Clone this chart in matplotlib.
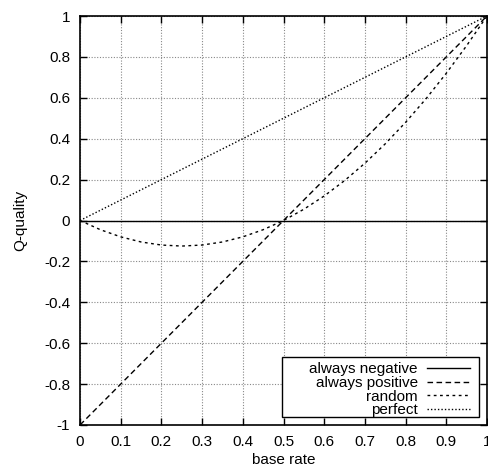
import matplotlib
matplotlib.use("Agg")
import matplotlib.pyplot as plt
from matplotlib.ticker import FuncFormatter
from matplotlib.patches import Rectangle

plt.rcParams['font.family'] = ['Liberation Sans', 'DejaVu Sans']

# data
base_rate = [0.0, 0.05, 0.1, 0.15, 0.2, 0.25, 0.3, 0.35, 0.4, 0.45, 0.5,
             0.55, 0.6, 0.65, 0.7, 0.75, 0.8, 0.85, 0.9, 0.95, 1.0]
always_negative = [0.0] * 21
always_positive = [-1.0, -0.9, -0.8, -0.7, -0.6, -0.5, -0.4, -0.3, -0.2, -0.1, 0.0,
                   0.1, 0.2, 0.3, 0.4, 0.5, 0.6, 0.7, 0.8, 0.9, 1.0]
random_q = [0.0, -0.045, -0.08, -0.105, -0.12, -0.125, -0.12, -0.105, -0.08, -0.045, 0.0,
            0.055, 0.12, 0.195, 0.28, 0.375, 0.48, 0.595, 0.72, 0.855, 1.0]
perfect = [0.0, 0.05, 0.1, 0.15, 0.2, 0.25, 0.3, 0.35, 0.4, 0.45, 0.5,
           0.55, 0.6, 0.65, 0.7, 0.75, 0.8, 0.85, 0.9, 0.95, 1.0]
xticks = [0, 0.1, 0.2, 0.3, 0.4, 0.5, 0.6, 0.7, 0.8, 0.9, 1]
yticks = [-1, -0.8, -0.6, -0.4, -0.2, 0, 0.2, 0.4, 0.6, 0.8, 1]

fig = plt.figure(figsize=(4.89, 4.70), dpi=100)
ax = fig.add_axes([80/489, 1-425/470, 407/489, 409/470])

ax.plot(base_rate, always_negative, color='black', lw=1.0, ls='-', label='always negative')
ax.plot(base_rate, always_positive, color='black', lw=1.0, ls=(0, (4, 2.5)), label='always positive')
ax.plot(base_rate, random_q, color='black', lw=1.0, ls=(0, (2, 2.5)), label='random')
ax.plot(base_rate, perfect, color='black', lw=1.0, ls=(0, (1, 1.5)), label='perfect')

ax.set_xlim(0, 1)
ax.set_ylim(-1, 1)
ax.set_xticks(xticks)
ax.set_yticks(yticks)
fmt = FuncFormatter(lambda v, p: ('%g' % round(v, 2)))
ax.xaxis.set_major_formatter(fmt)
ax.yaxis.set_major_formatter(fmt)
ax.tick_params(direction='in', length=5, width=1, top=True, right=True, labelsize=11, pad=7)
ax.grid(True, color='#888888', ls=(0, (1, 1.5)), lw=0.8)
for s in ax.spines.values():
    s.set_linewidth(1.2)

ax.set_xlabel('base rate', fontsize=11, labelpad=3)
ax.set_ylabel('Q-quality', fontsize=11, labelpad=12)

# legend frame (gnuplot-style key box)
ax.add_patch(Rectangle((0.4963, 0.0196), 0.9803 - 0.4963, 0.1663 - 0.0196,
                       transform=ax.transAxes, facecolor='white', edgecolor='black',
                       lw=1.0, zorder=4))

leg = ax.legend(loc='lower right', bbox_to_anchor=(0.958, 0.0185), markerfirst=False,
                frameon=False, fontsize=11,
                handlelength=2.8, borderpad=0.0, labelspacing=-0.02, handletextpad=0.6,
                borderaxespad=0)
leg.set_zorder(5)
for t in leg.get_texts():
    t.set_ha('right')
leg._legend_box.align = 'right'

fig.savefig('out.png', dpi=100)
